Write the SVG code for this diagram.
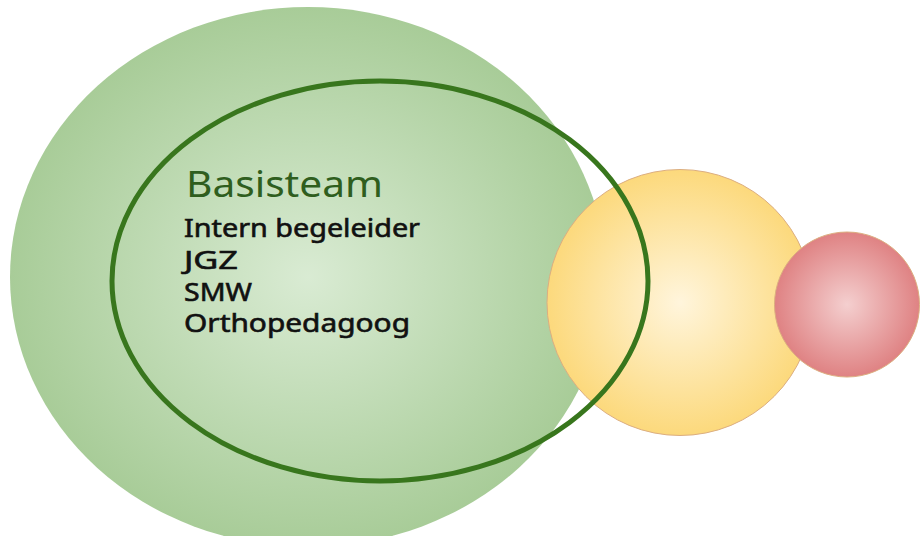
<svg xmlns="http://www.w3.org/2000/svg" width="921" height="536" viewBox="0 0 921 536">
<defs>
<radialGradient id="gGreen" cx="0.5" cy="0.5" r="0.5">
<stop offset="0" stop-color="#d9ebd3"/>
<stop offset="1" stop-color="#a8cc98"/>
</radialGradient>
<radialGradient id="gYellow" cx="0.5" cy="0.5" r="0.5">
<stop offset="0" stop-color="#fff5dc"/>
<stop offset="1" stop-color="#fcd97c"/>
</radialGradient>
<radialGradient id="gRed" cx="0.5" cy="0.5" r="0.5">
<stop offset="0" stop-color="#f4cfcf"/>
<stop offset="1" stop-color="#df8283"/>
</radialGradient>
<style>
.title{font-family:"Noto Sans","DejaVu Sans",sans-serif;font-size:37px;fill:#2f5e1e;}
.body{font-family:"Noto Sans","DejaVu Sans",sans-serif;font-size:25px;font-weight:normal;fill:#111;stroke:#111;stroke-width:0.6px;}
</style>
</defs>
<g id="outer-circle">
<ellipse cx="308" cy="277" rx="298" ry="270" fill="url(#gGreen)"/>
</g>
<g id="yellow-circle">
<circle cx="680" cy="302.5" r="133" fill="url(#gYellow)" stroke="#dcae80" stroke-width="1"/>
</g>
<g id="red-circle">
<circle cx="847" cy="304.5" r="72.5" fill="url(#gRed)" stroke="#dcae80" stroke-width="1"/>
</g>
<g id="basisteam">
<ellipse cx="380" cy="281" rx="268" ry="200" fill="none" stroke="#38761d" stroke-width="5"/>
<text class="title" x="186" y="197" textLength="197" lengthAdjust="spacingAndGlyphs">Basisteam</text>
<text class="body" x="184" y="237" textLength="236" lengthAdjust="spacingAndGlyphs">Intern begeleider</text>
<text class="body" x="184" y="269" textLength="54" lengthAdjust="spacingAndGlyphs">JGZ</text>
<text class="body" x="184" y="301" textLength="68" lengthAdjust="spacingAndGlyphs">SMW</text>
<text class="body" x="184" y="332" textLength="226" lengthAdjust="spacingAndGlyphs">Orthopedagoog</text>
</g>
</svg>
